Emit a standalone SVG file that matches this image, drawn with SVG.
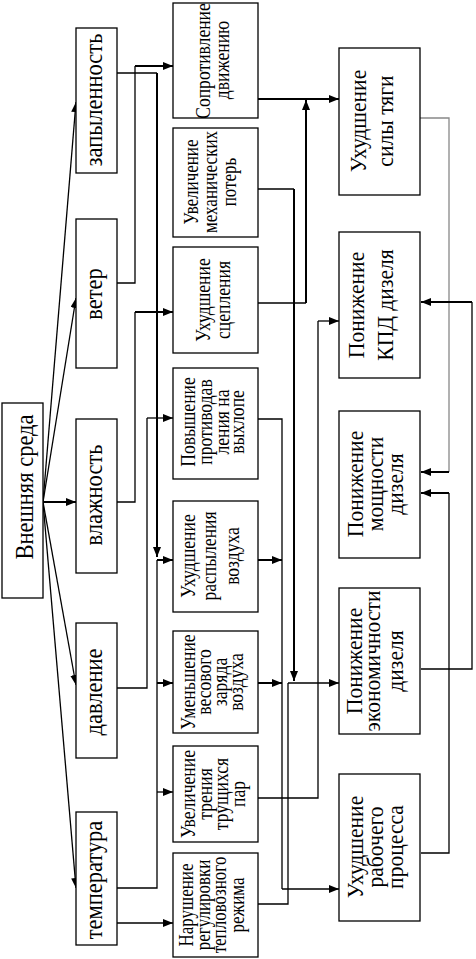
<svg xmlns="http://www.w3.org/2000/svg" width="476" height="959" viewBox="0 0 476 959">
<style>
rect.b{fill:#fff;stroke:#000;stroke-width:1.3}
text{font-family:"Liberation Serif","Times New Roman","DejaVu Serif",serif;fill:#000;text-anchor:middle}
.t1{font-size:25px}
.t2{font-size:25px}
.t3{font-size:20px}
.t4{font-size:24px}
.c{fill:none;stroke:#000;stroke-width:1.3}
.k{fill:none;stroke:#000;stroke-width:2}
.g{fill:none;stroke:#888;stroke-width:1.3}
.a{marker-end:url(#ar)}
</style>
<defs>
<marker id="ar" markerUnits="userSpaceOnUse" markerWidth="11" markerHeight="9" refX="10" refY="4" orient="auto">
<path d="M0,0 L10,4 L0,8 z" fill="#000"/>
</marker>
</defs>
<rect width="476" height="959" fill="#fff"/>
<g id="connectors">
<path class="c a" d="M43,502 L76,102"/>
<path class="c a" d="M43,502 L76,298"/>
<path class="k a" d="M43,502 L76,502"/>
<path class="c a" d="M43,502 L76,685"/>
<path class="c a" d="M43,502 L76,888"/>
<path class="c" d="M117,73 L157,73"/>
<path class="k a" d="M157,73 L157,557"/>
<path class="c" d="M117,283 L135,283 L135,66"/>
<path class="k a" d="M135,66 L173,66"/>
<path class="c" d="M117,502 L135,502 L135,312"/>
<path class="k a" d="M135,312 L173,312"/>
<path class="c" d="M117,688 L147,688 L147,418"/>
<path class="c a" d="M147,418 L173,418"/>
<path class="c" d="M117,888 L157,888 L157,560"/>
<path class="k a" d="M157,560 L173,560"/>
<path class="k a" d="M157,683 L173,683"/>
<path class="c a" d="M157,792 L173,792"/>
<path class="c a" d="M117,923 L173,923"/>
<path class="k a" d="M258,99 L339,99"/>
<path class="c" d="M258,303 L306,303"/>
<path class="k a" d="M306,303 L306,100"/>
<path class="c" d="M258,189 L294,189"/>
<path class="k a" d="M294,189 L294,681"/>
<path class="c" d="M258,419 L282,419 L282,889"/>
<path class="c a" d="M282,889 L339,889"/>
<path class="k a" d="M258,560 L282,560"/>
<path class="k a" d="M258,683 L282,683"/>
<path class="c" d="M258,798 L318,798 L318,321"/>
<path class="c a" d="M318,321 L339,321"/>
<path class="c" d="M258,904 L288,904 L288,683"/>
<path class="c a" d="M288,683 L339,683"/>
<path class="g" d="M420,118 L449,118 L449,472"/>
<path class="k a" d="M449,472 L421,472"/>
<path class="c" d="M421,669 L472,669 L472,302"/>
<path class="k a" d="M472,302 L421,302"/>
<path class="c" d="M421,853 L449,853 L449,493"/>
<path class="k a" d="M449,493 L421,493"/>
</g>

<g id="n-root"><rect class="b" x="2" y="403" width="41" height="195"/>
<text class="t1" transform="translate(33,487) rotate(-90) scale(0.9,1)">Внешняя среда</text></g>

<g id="n-zap"><rect class="b" x="76" y="28" width="41" height="145"/>
<text class="t2" transform="translate(102,100) rotate(-90) scale(0.9,1)">запыленность</text></g>
<g id="n-veter"><rect class="b" x="76" y="219" width="41" height="149"/>
<text class="t2" transform="translate(102,294) rotate(-90) scale(0.9,1)">ветер</text></g>
<g id="n-vlazh"><rect class="b" x="76" y="419" width="41" height="154"/>
<text class="t2" transform="translate(102,495) rotate(-90) scale(0.9,1)">влажность</text></g>
<g id="n-davl"><rect class="b" x="76" y="623" width="41" height="135"/>
<text class="t2" transform="translate(102,692) rotate(-90) scale(0.9,1)">давление</text></g>
<g id="n-temp"><rect class="b" x="76" y="812" width="41" height="133"/>
<text class="t2" transform="translate(102,880) rotate(-90) scale(0.9,1)">температура</text></g>

<g id="n-sopr"><rect class="b" x="173" y="3" width="85" height="115"/>
<text class="t3" transform="translate(210,61) rotate(-90) scale(0.88,1)">Сопротивление</text>
<text class="t3" transform="translate(229,60) rotate(-90) scale(0.88,1)">движению</text></g>
<g id="n-meh"><rect class="b" x="173" y="128" width="85" height="109"/>
<text class="t3" transform="translate(198,182) rotate(-90) scale(0.85,1)">Увеличение</text>
<text class="t3" transform="translate(217,182) rotate(-90) scale(0.85,1)">механических</text>
<text class="t3" transform="translate(236,182) rotate(-90) scale(0.85,1)">потерь</text></g>
<g id="n-scep"><rect class="b" x="173" y="247" width="85" height="106"/>
<text class="t3" transform="translate(210,300) rotate(-90) scale(0.88,1)">Ухудшение</text>
<text class="t3" transform="translate(230,300) rotate(-90) scale(0.88,1)">сцепления</text></g>
<g id="n-protiv"><rect class="b" x="173" y="368" width="85" height="111"/>
<text class="t3" transform="translate(195,422) rotate(-90) scale(0.88,1)">Повышение</text>
<text class="t3" transform="translate(212,422) rotate(-90) scale(0.88,1)">противодав</text>
<text class="t3" transform="translate(229,422) rotate(-90) scale(0.88,1)">ления на</text>
<text class="t3" transform="translate(244,422) rotate(-90) scale(0.88,1)">выхлопе</text></g>
<g id="n-raspyl"><rect class="b" x="173" y="501" width="85" height="111"/>
<text class="t3" transform="translate(195,556) rotate(-90) scale(0.88,1)">Ухудшение</text>
<text class="t3" transform="translate(216,556) rotate(-90) scale(0.88,1)">распыления</text>
<text class="t3" transform="translate(239,556) rotate(-90) scale(0.88,1)">воздуха</text></g>
<g id="n-ves"><rect class="b" x="173" y="631" width="85" height="102"/>
<text class="t3" transform="translate(195,682) rotate(-90) scale(0.88,1)">Уменьшение</text>
<text class="t3" transform="translate(211,682) rotate(-90) scale(0.88,1)">весового</text>
<text class="t3" transform="translate(227,682) rotate(-90) scale(0.88,1)">заряда</text>
<text class="t3" transform="translate(243,682) rotate(-90) scale(0.88,1)">воздуха</text></g>
<g id="n-tren"><rect class="b" x="173" y="746" width="85" height="96"/>
<text class="t3" transform="translate(195,794) rotate(-90) scale(0.88,1)">Увеличение</text>
<text class="t3" transform="translate(212,794) rotate(-90) scale(0.88,1)">трения</text>
<text class="t3" transform="translate(228,794) rotate(-90) scale(0.88,1)">трущихся</text>
<text class="t3" transform="translate(245,794) rotate(-90) scale(0.88,1)">пар</text></g>
<g id="n-narush"><rect class="b" x="173" y="853" width="85" height="104"/>
<text class="t3" transform="translate(193,905) rotate(-90) scale(0.85,1)">Нарушение</text>
<text class="t3" transform="translate(210,905) rotate(-90) scale(0.85,1)">регулировки</text>
<text class="t3" transform="translate(226,905) rotate(-90) scale(0.85,1)">тепловозного</text>
<text class="t3" transform="translate(244,905) rotate(-90) scale(0.85,1)">режима</text></g>

<g id="n-tyagi"><rect class="b" x="339" y="48" width="81" height="147"/>
<text class="t4" transform="translate(366,121) rotate(-90) scale(0.9,1)">Ухудшение</text>
<text class="t4" transform="translate(393,121) rotate(-90) scale(0.9,1)">силы тяги</text></g>
<g id="n-kpd"><rect class="b" x="339" y="232" width="81" height="146"/>
<text class="t4" transform="translate(364,305) rotate(-90) scale(0.9,1)">Понижение</text>
<text class="t4" transform="translate(393,305) rotate(-90) scale(0.9,1)">КПД дизеля</text></g>
<g id="n-mosh"><rect class="b" x="339" y="411" width="81" height="147"/>
<text class="t4" transform="translate(363,484) rotate(-90) scale(0.9,1)">Понижение</text>
<text class="t4" transform="translate(383,484) rotate(-90) scale(0.9,1)">мощности</text>
<text class="t4" transform="translate(403,484) rotate(-90) scale(0.9,1)">дизеля</text></g>
<g id="n-ekon"><rect class="b" x="339" y="588" width="81" height="146"/>
<text class="t4" transform="translate(362,661) rotate(-90) scale(0.9,1)">Понижение</text>
<text class="t4" transform="translate(380,661) rotate(-90) scale(0.9,1)">экономичности</text>
<text class="t4" transform="translate(403,661) rotate(-90) scale(0.9,1)">дизеля</text></g>
<g id="n-rab"><rect class="b" x="339" y="774" width="81" height="147"/>
<text class="t4" transform="translate(363,847) rotate(-90) scale(0.9,1)">Ухудшение</text>
<text class="t4" transform="translate(383,847) rotate(-90) scale(0.9,1)">рабочего</text>
<text class="t4" transform="translate(403,847) rotate(-90) scale(0.9,1)">процесса</text></g>
</svg>
